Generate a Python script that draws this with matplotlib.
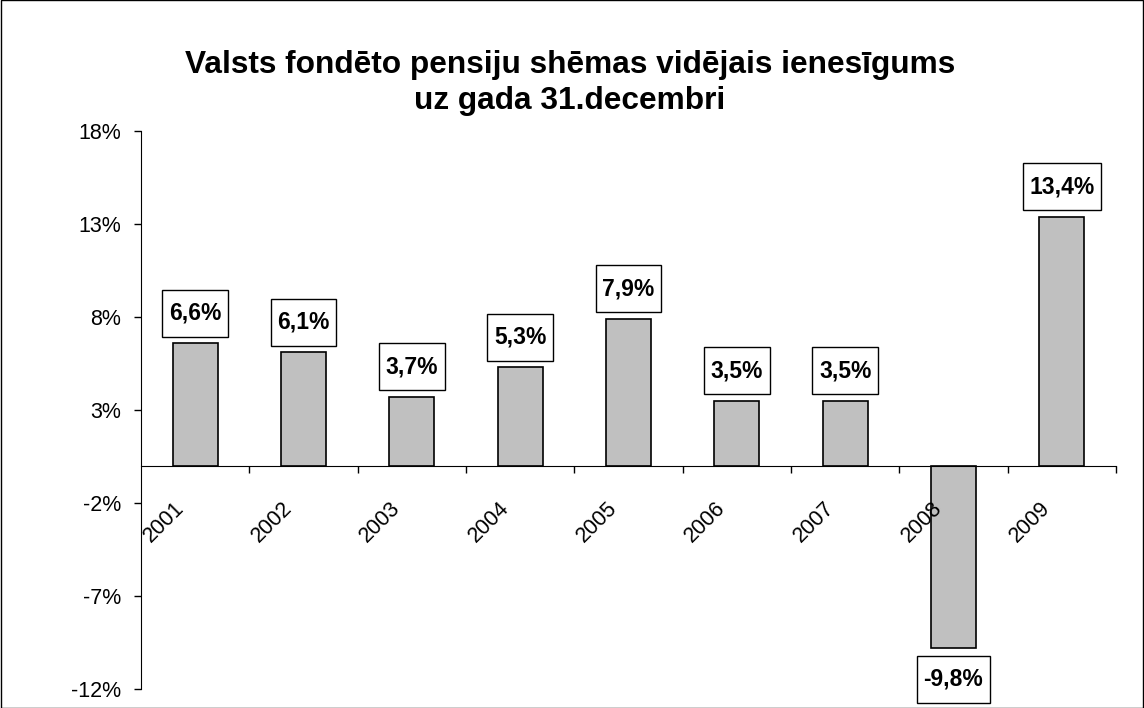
import matplotlib
matplotlib.use("Agg")
import matplotlib.pyplot as plt
from matplotlib.patches import Rectangle
from matplotlib.path import Path
import matplotlib.transforms as mtransforms

plt.rcParams['font.family'] = ['Liberation Sans', 'DejaVu Sans']

# data
years = ['2001', '2002', '2003', '2004', '2005', '2006', '2007', '2008', '2009']
returns = [6.6, 6.1, 3.7, 5.3, 7.9, 3.5, 3.5, -9.8, 13.4]
value_labels = ['6,6%', '6,1%', '3,7%', '5,3%', '7,9%', '3,5%', '3,5%', '-9,8%', '13,4%']
y_ticks = [-12, -7, -2, 3, 8, 13, 18]
y_tick_labels = ['-12%', '-7%', '-2%', '3%', '8%', '13%', '18%']
title = 'Valsts fondēto pensiju shēmas vidējais ienesīgums\nuz gada 31.decembri'

DPI = 100
fig = plt.figure(figsize=(11.44, 7.08), dpi=DPI)
fig.patches.append(Rectangle((0.0005, 0.0007), 0.999, 0.9986, transform=fig.transFigure,
                             fill=False, edgecolor='black', linewidth=1))

ax = fig.add_axes([141 / 1144, 19 / 708, (1116 - 141) / 1144, (689 - 131) / 708])

x = list(range(len(years)))
ax.bar(x, returns, width=0.415, color='#c0c0c0', edgecolor='black', linewidth=1.2, zorder=2)

ax.set_xlim(-0.5, len(years) - 0.5)
ax.set_ylim(-12, 18)
ax.set_yticks(y_ticks)
ax.set_yticklabels(y_tick_labels, fontsize=15.5)
ax.tick_params(axis='y', direction='out', length=5, width=1, pad=9.5)

# x axis through zero, ticks at category boundaries
ax.spines['bottom'].set_position(('data', 0))
ax.spines['top'].set_visible(False)
ax.spines['right'].set_visible(False)
ax.set_xticks([i + 0.5 for i in x])
ax.set_xticklabels([])
ax.tick_params(axis='x', direction='out', length=5, width=1)

# rotated year labels
for i, yr in zip(x, years):
    tr = mtransforms.offset_copy(ax.transData, fig=fig, x=-7, y=-32, units='dots')
    ax.text(i, 0, yr, transform=tr, rotation=45, ha='right', va='top', fontsize=15.5)


# box with larger vertical padding than horizontal
def tall_box(x0, y0, width, height, mutation_size):
    px = 6.5
    py = 12
    x0, y0 = x0 - px, y0 - py
    x1, y1 = x0 + width + 2 * px, y0 + height + 2 * py
    return Path([(x0, y0), (x1, y0), (x1, y1), (x0, y1), (x0, y0)], closed=True)


for i, v, lab in zip(x, returns, value_labels):
    off = 30 if v >= 0 else -31
    ax.annotate(lab, (i, v), xytext=(0, off * 72 / DPI), textcoords='offset points',
                ha='center', va='center', fontsize=16.5, fontweight='bold',
                bbox=dict(boxstyle=tall_box, facecolor='white', edgecolor='black', linewidth=1),
                zorder=3, annotation_clip=False)

fig.text(570 / 1144, 1 - 83 / 708, title, ha='center', va='center', fontsize=22.8,
         fontweight='bold', linespacing=1.3)

fig.savefig('out.png', dpi=DPI)
